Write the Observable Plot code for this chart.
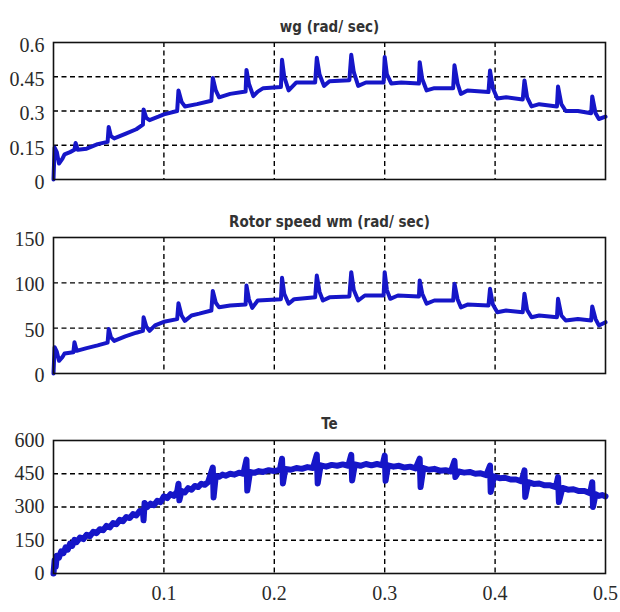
<!DOCTYPE html>
<html>
<head>
<meta charset="utf-8">
<script src="https://cdn.jsdelivr.net/npm/d3@7"></script>
<script src="https://cdn.jsdelivr.net/npm/@observablehq/plot@0.6"></script>
<style>
  html, body { margin: 0; padding: 0; background: #fff; }
  #chart { width: 620px; height: 612px; position: relative; background: #fff; }
  #chart svg { display: block; }
</style>
</head>
<body>
<div id="chart"></div>
<script>
// ---------- Panel 1: wg (rad/ sec) ----------
const wgTitle = "wg (rad/ sec)";
const wgTime = [0,0.001,0.003,0.005,0.008,0.010,0.015,0.019,0.020,0.022,0.030,0.040,0.049,0.050,0.052,0.055,0.065,0.075,0.081,0.0816,0.084,0.087,0.095,0.100,0.112,0.1132,0.116,0.119,0.130,0.143,0.1443,0.147,0.150,0.160,0.174,0.1748,0.177,0.181,0.185,0.190,0.206,0.207,0.209,0.213,0.220,0.237,0.2385,0.241,0.245,0.250,0.268,0.2697,0.272,0.276,0.283,0.299,0.300,0.302,0.306,0.315,0.331,0.3317,0.334,0.338,0.345,0.362,0.3632,0.366,0.369,0.375,0.394,0.3954,0.398,0.402,0.410,0.425,0.4266,0.429,0.433,0.440,0.456,0.457,0.460,0.464,0.475,0.487,0.488,0.491,0.494,0.500];
const wgValues = [0,0.14,0.12,0.07,0.09,0.11,0.12,0.13,0.16,0.13,0.135,0.155,0.165,0.23,0.19,0.18,0.20,0.22,0.24,0.307,0.27,0.26,0.275,0.285,0.30,0.39,0.34,0.32,0.33,0.345,0.445,0.39,0.36,0.375,0.385,0.48,0.42,0.365,0.385,0.40,0.405,0.524,0.45,0.39,0.425,0.425,0.533,0.46,0.41,0.43,0.435,0.546,0.47,0.41,0.425,0.425,0.536,0.46,0.42,0.425,0.42,0.514,0.44,0.39,0.40,0.40,0.50,0.42,0.375,0.39,0.383,0.477,0.40,0.355,0.36,0.35,0.434,0.36,0.32,0.33,0.32,0.407,0.33,0.30,0.30,0.29,0.364,0.29,0.265,0.275];
const wgTicks = [0, 0.15, 0.3, 0.45, 0.6];

// ---------- Panel 2: Rotor speed wm (rad/ sec) ----------
const wmTitle = "Rotor speed wm (rad/ sec)";
const wmTime = [0,0.001,0.003,0.005,0.008,0.010,0.018,0.019,0.021,0.030,0.040,0.049,0.050,0.052,0.055,0.065,0.075,0.081,0.0816,0.084,0.087,0.092,0.100,0.112,0.1132,0.116,0.119,0.125,0.132,0.143,0.1443,0.147,0.150,0.160,0.174,0.1748,0.177,0.180,0.185,0.206,0.207,0.209,0.213,0.218,0.237,0.2385,0.241,0.244,0.250,0.268,0.2697,0.272,0.276,0.282,0.299,0.300,0.302,0.305,0.312,0.331,0.3317,0.334,0.338,0.345,0.362,0.3632,0.366,0.369,0.375,0.394,0.3954,0.398,0.402,0.410,0.425,0.4266,0.429,0.433,0.440,0.456,0.457,0.460,0.464,0.475,0.487,0.488,0.491,0.494,0.500];
const wmValues = [0,29,24,14,18,22,23.5,34.5,25,28,31,34,49,40,36,41,45,47,62,52,47,53,57,60,77.6,64,58,64,66,69.5,91,78,73,75,76,97,82,72.4,80.5,82,105.5,88,77,82,84,108,90,80.5,84,85,111.8,92,80.5,86,86,111.8,92,82.4,86,85,102.6,88,77,80.5,80.5,99,82,73,76,75,93.4,76,67.6,69.5,67.6,88,70,62,64,62,82.4,64,58.5,60,58.5,74,60,53,56.6];
const wmTicks = [0, 50, 100, 150];

// ---------- Panel 3: Te ----------
const teTitle = "Te";
const teTime = [
  0,0.001,0.002,0.003,0.005,0.007,0.009,0.011,0.013,0.015,
  0.017,0.019,0.021,0.024,0.027,0.030,0.033,0.036,0.039,0.042,
  0.045,0.048,0.051,0.054,0.057,0.060,0.063,0.066,0.069,0.072,
  0.075,0.078,0.081,0.0816,0.0825,0.085,0.088,0.091,0.094,0.097,
  0.100,0.103,0.106,0.109,0.112,0.1132,0.114,0.116,0.119,0.122,
  0.125,0.128,0.131,0.134,0.137,0.140,0.1443,0.145,0.147,0.150,
  0.153,0.156,0.160,0.164,0.168,0.172,0.1748,0.1755,0.178,0.182,
  0.186,0.190,0.195,0.200,0.205,0.207,0.2078,0.210,0.215,0.220,
  0.225,0.230,0.235,0.2385,0.2393,0.242,0.247,0.252,0.257,0.262,
  0.267,0.2697,0.2705,0.273,0.278,0.283,0.288,0.293,0.298,0.300,
  0.3008,0.303,0.308,0.313,0.318,0.323,0.328,0.3317,0.3325,0.335,
  0.340,0.345,0.350,0.355,0.360,0.3632,0.364,0.367,0.372,0.377,
  0.382,0.387,0.392,0.3954,0.396,0.399,0.404,0.409,0.414,0.419,
  0.424,0.4266,0.4273,0.430,0.435,0.440,0.445,0.450,0.455,0.457,
  0.4578,0.461,0.466,0.471,0.476,0.481,0.486,0.488,0.4887,0.491,
  0.494,0.497,0.500];
const teValues = [
  0,60,30,80,72,100,92,118,108,135,
  125,152,142,162,155,175,168,188,182,200,
  195,215,208,228,222,242,236,255,250,268,
  262,282,278,240,318,300,315,308,328,322,
  348,340,358,350,370,405,330,372,366,385,
  378,395,390,405,400,412,478,343,440,436,
  446,441,450,446,455,450,514,374,458,454,
  462,458,466,462,468,518,406,472,468,476,
  472,480,476,536,406,488,482,490,486,492,
  486,535,420,492,486,494,488,494,488,532,
  418,488,482,486,478,482,474,518,390,476,
  468,472,464,466,460,508,435,460,455,458,
  450,452,444,487,368,438,430,432,424,424,
  416,465,345,412,404,406,398,398,390,435,
  322,386,378,380,372,372,362,412,300,358,
  350,354,348];
const teTicks = [0, 150, 300, 450, 600];

// ---------- shared x axis ----------
const xDomain = [0, 0.5];
const xGrid = [0.1, 0.2, 0.3, 0.4];
const xTickLabels = [0.1, 0.2, 0.3, 0.4, 0.5];

const titleFont = "'Liberation Sans Narrow', 'DejaVu Sans Condensed', 'Arial Narrow', 'Liberation Sans', sans-serif";
const tickFont = "'Liberation Serif', 'DejaVu Serif', serif";

function panel({title, time, values, ticks, height, mt, mb, titleDy, showX, labelDy, lineWidth}) {
  const data = time.map((t, i) => ({t, v: values[i]}));
  const yMax = ticks[ticks.length - 1];
  const inner = ticks.filter(d => d > 0 && d < yMax);
  const marks = [
    Plot.gridY(inner, {stroke: "#000", strokeOpacity: 1, strokeWidth: 1.4, strokeDasharray: "5,3.5"}),
    Plot.gridX(xGrid, {stroke: "#000", strokeOpacity: 1, strokeWidth: 1.4, strokeDasharray: "5,3.5"}),
    Plot.line(data, {x: "t", y: "v", stroke: "#1616c8", strokeWidth: lineWidth, strokeLinejoin: "round"}),
    Plot.frame({stroke: "#111", strokeWidth: 1.6}),
    Plot.axisY(ticks, {tickSize: 0, tickPadding: 9, fontSize: 20, fontFamily: tickFont, fill: "#2a2a2a", tickFormat: d => String(d), label: null, dy: labelDy}),
    Plot.text([title], {frameAnchor: "top", dy: titleDy, fontSize: 15, fontWeight: "bold", fontFamily: titleFont, fill: "#333", letterSpacing: "1.2px"})
  ];
  if (showX) {
    marks.push(Plot.axisX(xTickLabels, {tickSize: 0, tickPadding: 12, fontSize: 20, fontFamily: tickFont, fill: "#2a2a2a", tickFormat: d => String(d), label: null}));
  }
  return Plot.plot({
    width: 620,
    height,
    marginLeft: 53,
    marginRight: 15,
    marginTop: mt,
    marginBottom: mb,
    style: {background: "transparent", overflow: "visible"},
    x: {domain: xDomain, axis: showX ? undefined : null},
    y: {domain: [0, yMax], axis: null},
    marks
  });
}

const chart = document.getElementById("chart");
chart.append(panel({title: wgTitle, time: wgTime, values: wgValues, ticks: wgTicks, height: 200, mt: 42, mb: 21, titleDy: -21, showX: false, labelDy: 3, lineWidth: 4}));
chart.append(panel({title: wmTitle, time: wmTime, values: wmValues, ticks: wmTicks, height: 200, mt: 37, mb: 27, titleDy: -21, showX: false, labelDy: 2, lineWidth: 4}));
chart.append(panel({title: teTitle, time: teTime, values: teValues, ticks: teTicks, height: 212, mt: 40, mb: 39, titleDy: -22, showX: true, labelDy: 0, lineWidth: 6}));
</script>
</body>
</html>
